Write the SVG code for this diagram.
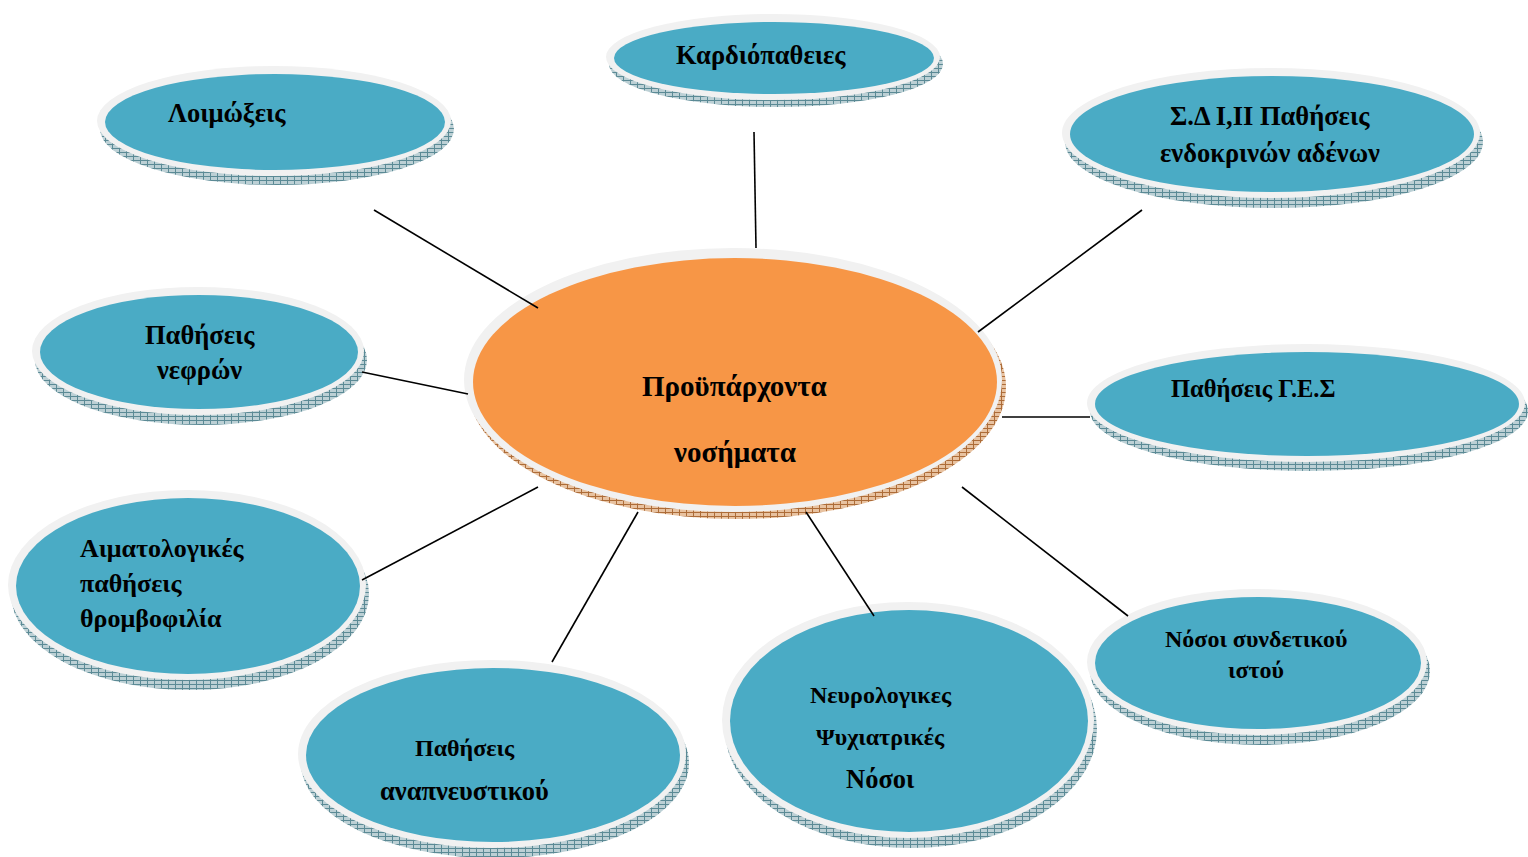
<svg xmlns="http://www.w3.org/2000/svg" width="1528" height="857" viewBox="0 0 1528 857">
<defs>
<pattern id="hatchB" width="7" height="4" patternUnits="userSpaceOnUse">
<rect width="7" height="4" fill="#bcd0d5"/>
<path d="M0 0.5H7M0.5 0V4" stroke="#5b8a95" stroke-width="1"/>
</pattern>
<pattern id="hatchO" width="7" height="4" patternUnits="userSpaceOnUse">
<rect width="7" height="4" fill="#e8c2a0"/>
<path d="M0 0.5H7M0.5 0V4" stroke="#ad6c38" stroke-width="1"/>
</pattern>
</defs>
<style>
.edge{fill:url(#hatchB)}
.edgeO{fill:url(#hatchO)}
.ring{fill:#f1f1f1}
.blue{fill:#4aabc5}
.orange{fill:#f79646}
text{font-family:"Liberation Serif","Times New Roman",serif;font-weight:bold;font-size:26.5px;fill:#000}
.s24{font-size:24px}
.big{font-size:29px}
.conn line{stroke:#000;stroke-width:1.6}
</style>
<rect width="1528" height="857" fill="#fff"/>

<g id="n-kardio">
<ellipse class="edge" cx="776" cy="64" rx="167" ry="43"/>
<ellipse class="ring" cx="773" cy="57" rx="167" ry="43"/>
<ellipse class="blue" cx="774" cy="58" rx="160" ry="36"/>
<text x="676" y="64">Καρδιόπαθειες</text>
</g>

<g id="n-loimoxeis">
<ellipse class="edge" cx="277" cy="129" rx="177" ry="56"/>
<ellipse class="ring" cx="274" cy="121" rx="177" ry="55"/>
<ellipse class="blue" cx="275" cy="122" rx="170" ry="48"/>
<text x="168" y="122">Λοιμώξεις</text>
</g>

<g id="n-sd">
<ellipse class="edge" cx="1274" cy="142" rx="209" ry="66"/>
<ellipse class="ring" cx="1271" cy="133" rx="209" ry="65"/>
<ellipse class="blue" cx="1272" cy="134" rx="202" ry="58"/>
<text x="1170" y="125">Σ.Δ Ι,ΙΙ Παθήσεις</text>
<text x="1160" y="162">ενδοκρινών αδένων</text>
</g>

<g id="n-nefron">
<ellipse class="edge" cx="201" cy="360" rx="166" ry="65"/>
<ellipse class="ring" cx="198" cy="351" rx="166" ry="64"/>
<ellipse class="blue" cx="199" cy="352" rx="159" ry="57"/>
<text x="145" y="344">Παθήσεις</text>
<text x="157" y="379">νεφρών</text>
</g>

<g id="n-ges">
<ellipse class="edge" cx="1309" cy="411" rx="219" ry="60"/>
<ellipse class="ring" cx="1306" cy="403" rx="219" ry="59"/>
<ellipse class="blue" cx="1307" cy="404" rx="212" ry="52"/>
<text x="1171" y="397" style="font-size:24.5px">Παθήσεις Γ.Ε.Σ</text>
</g>

<g id="n-aimat">
<ellipse class="edge" cx="190" cy="594" rx="179" ry="96"/>
<ellipse class="ring" cx="187" cy="585" rx="179" ry="95"/>
<ellipse class="blue" cx="188" cy="586" rx="172" ry="88"/>
<text x="80" y="557" style="font-size:26px">Αιματολογικές</text>
<text x="80" y="592" style="font-size:26px">παθήσεις</text>
<text x="80" y="627" style="font-size:26px">θρομβοφιλία</text>
</g>

<g id="n-anapn">
<ellipse class="edge" cx="495" cy="763" rx="194" ry="95"/>
<ellipse class="ring" cx="492" cy="754" rx="194" ry="94"/>
<ellipse class="blue" cx="493" cy="755" rx="187" ry="87"/>
<text x="415" y="756" class="s24">Παθήσεις</text>
<text x="380" y="800">αναπνευστικού</text>
</g>

<g id="n-neuro">
<ellipse class="edge" cx="911" cy="729" rx="186" ry="119"/>
<ellipse class="ring" cx="908" cy="720" rx="186" ry="118"/>
<ellipse class="blue" cx="909" cy="721" rx="179" ry="111"/>
<text x="810" y="703" class="s24">Νευρολογικες</text>
<text x="816" y="745" class="s24">Ψυχιατρικές</text>
<text x="846" y="788">Νόσοι</text>
</g>

<g id="n-syndet">
<ellipse class="edge" cx="1260" cy="671" rx="170" ry="74"/>
<ellipse class="ring" cx="1257" cy="662" rx="170" ry="73"/>
<ellipse class="blue" cx="1258" cy="663" rx="163" ry="66"/>
<text x="1165" y="647" class="s24">Νόσοι συνδετικού</text>
<text x="1228" y="678" class="s24">ιστού</text>
</g>

<g id="n-center">
<ellipse class="edgeO" cx="737" cy="387" rx="269" ry="132"/>
<ellipse class="ring" cx="733" cy="380" rx="269" ry="132"/>
<ellipse class="orange" cx="735" cy="382" rx="262" ry="124"/>
<text x="642" y="396" class="big">Προϋπάρχοντα</text>
<text x="674" y="462" class="big">νοσήματα</text>
</g>

<g id="connectors" class="conn">
<line x1="374" y1="210" x2="538" y2="308"/>
<line x1="754" y1="132" x2="756" y2="248"/>
<line x1="1142" y1="210" x2="978" y2="332"/>
<line x1="362" y1="372" x2="468" y2="394"/>
<line x1="1002" y1="417" x2="1090" y2="417"/>
<line x1="362" y1="580" x2="538" y2="487"/>
<line x1="638" y1="512" x2="552" y2="662"/>
<line x1="806" y1="512" x2="874" y2="616"/>
<line x1="962" y1="487" x2="1128" y2="616"/>
</g>
</svg>
